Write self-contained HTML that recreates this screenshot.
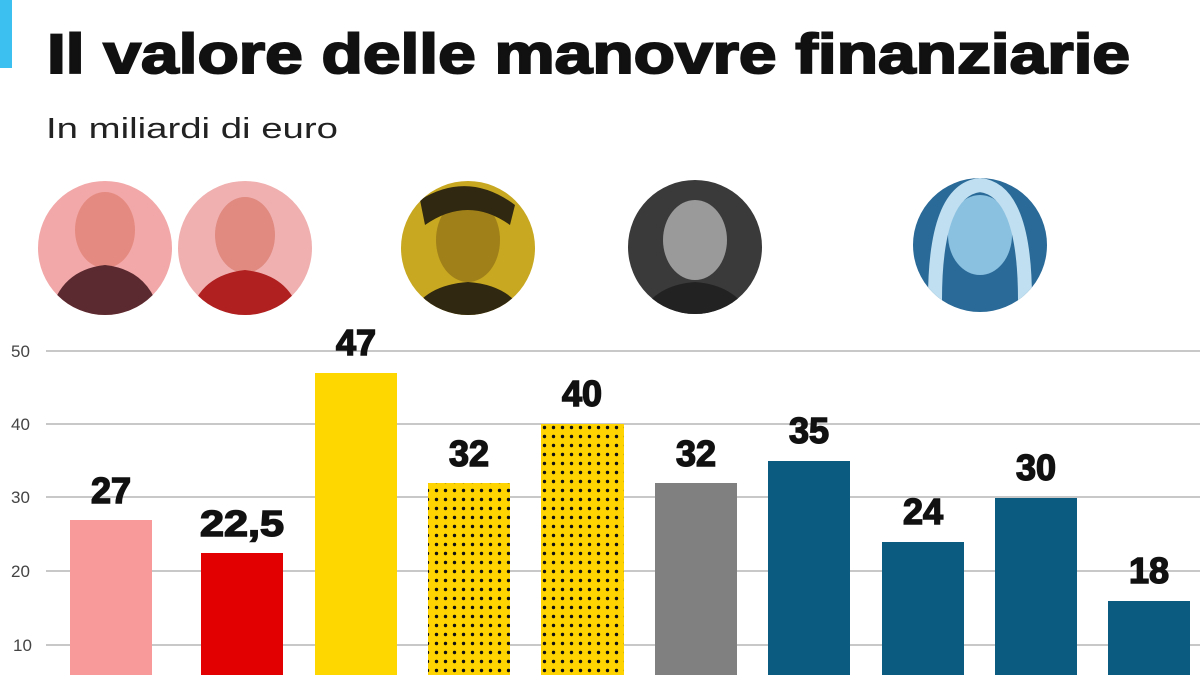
<!DOCTYPE html>
<html><head><meta charset="utf-8"><style>
body{margin:0;width:1200px;height:675px;overflow:hidden;background:#fff;font-family:"Liberation Sans",sans-serif;}
</style></head><body>
<svg width="1200" height="675" xmlns="http://www.w3.org/2000/svg">
<defs>
<pattern id="dots" width="9" height="9" patternUnits="userSpaceOnUse">
<rect width="9" height="9" fill="#ffd400"/><circle cx="4.5" cy="4.5" r="1.7" fill="#111"/>
</pattern>
<clipPath id="c1"><circle cx="105" cy="248" r="67"/></clipPath>
<clipPath id="c2"><circle cx="245" cy="248" r="67"/></clipPath>
<clipPath id="c3"><circle cx="468" cy="248" r="67"/></clipPath>
<clipPath id="c4"><circle cx="695" cy="247" r="67"/></clipPath>
<clipPath id="c5"><circle cx="980" cy="245" r="67"/></clipPath>
</defs>
<rect x="0" y="0" width="12" height="68" fill="#3cc0f0"/>
<text x="47" y="73" font-size="56" font-weight="900" fill="#111" stroke="#111" stroke-width="2" textLength="1083" lengthAdjust="spacingAndGlyphs">Il valore delle manovre finanziarie</text>
<text x="46" y="138" font-size="29" fill="#222" textLength="292" lengthAdjust="spacingAndGlyphs">In miliardi di euro</text>
<!-- photos -->
<g clip-path="url(#c1)"><rect x="38" y="181" width="134" height="134" fill="#f2a8a8"/><ellipse cx="105" cy="230" rx="30" ry="38" fill="#e58a80"/><path d="M50 315 Q60 270 105 265 Q150 270 160 315Z" fill="#5a2a30"/></g>
<g clip-path="url(#c2)"><rect x="178" y="181" width="134" height="134" fill="#f0b0b0"/><ellipse cx="245" cy="235" rx="30" ry="38" fill="#e08a80"/><path d="M190 315 Q200 275 245 270 Q290 275 300 315Z" fill="#b02020"/></g>
<g clip-path="url(#c3)"><rect x="401" y="181" width="134" height="134" fill="#c8a820"/><ellipse cx="468" cy="240" rx="32" ry="42" fill="#a08018"/><path d="M420 200 Q468 170 515 205 L510 225 Q468 195 425 225Z" fill="#302810"/><path d="M410 315 Q425 285 468 282 Q510 285 525 315Z" fill="#302810"/></g>
<g clip-path="url(#c4)"><rect x="628" y="180" width="134" height="134" fill="#3a3a3a"/><ellipse cx="695" cy="240" rx="32" ry="40" fill="#9a9a9a"/><path d="M640 315 Q655 285 695 282 Q735 285 750 315Z" fill="#222"/></g>
<g clip-path="url(#c5)"><rect x="913" y="178" width="134" height="134" fill="#2a6a98"/><ellipse cx="980" cy="235" rx="32" ry="40" fill="#8ac0e0"/><path d="M935 300 Q935 190 980 185 Q1025 190 1025 300" fill="none" stroke="#c0dff0" stroke-width="14"/></g>
<!-- grid -->
<g stroke="#c8c8c8" stroke-width="2">
<line x1="46" y1="351" x2="1200" y2="351"/><line x1="46" y1="424" x2="1200" y2="424"/>
<line x1="46" y1="497" x2="1200" y2="497"/><line x1="46" y1="571" x2="1200" y2="571"/>
<line x1="46" y1="645" x2="1200" y2="645"/>
</g>
<g font-size="17" fill="#444">
<text x="11" y="357">50</text><text x="11" y="430">40</text><text x="11" y="503">30</text><text x="11" y="577">20</text><text x="13" y="651">10</text>
</g>
<!-- bars -->
<rect x="70" y="520" width="82" height="160" fill="#f99a9a"/>
<rect x="201" y="553" width="82" height="130" fill="#e30000"/>
<rect x="315" y="373" width="82" height="310" fill="#ffd700"/>
<rect x="428" y="483" width="82" height="200" fill="url(#dots)"/>
<rect x="541" y="424" width="83" height="260" fill="url(#dots)"/>
<rect x="655" y="483" width="82" height="200" fill="#808080"/>
<rect x="768" y="461" width="82" height="220" fill="#0b5a80"/>
<rect x="882" y="542" width="82" height="140" fill="#0b5a80"/>
<rect x="995" y="498" width="82" height="180" fill="#0b5a80"/>
<rect x="1108" y="601" width="82" height="80" fill="#0b5a80"/>
<g font-size="36" font-weight="900" fill="#111" stroke="#111" stroke-width="1.5" text-anchor="middle">
<text x="111" y="503">27</text><text x="242" y="536" textLength="84" lengthAdjust="spacingAndGlyphs">22,5</text><text x="356" y="355">47</text>
<text x="469" y="466">32</text><text x="582" y="406">40</text><text x="696" y="466">32</text>
<text x="809" y="443">35</text><text x="923" y="524">24</text><text x="1036" y="480">30</text><text x="1149" y="583">18</text>
</g>
</svg>
</body></html>
